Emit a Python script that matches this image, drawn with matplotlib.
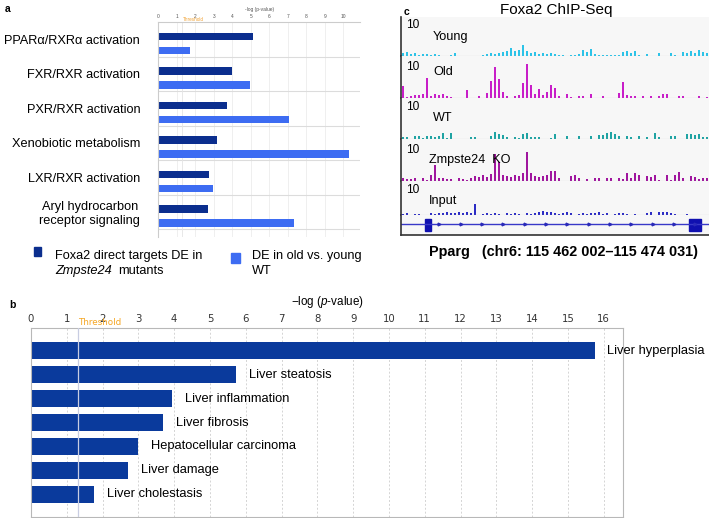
import numpy as np
import matplotlib.pyplot as plt
from matplotlib.patches import Rectangle

plt.rcParams['font.family'] = ['Liberation Sans', 'DejaVu Sans']
plt.rcParams['mathtext.fontset'] = 'custom'
plt.rcParams['mathtext.rm'] = 'Liberation Sans'
plt.rcParams['mathtext.it'] = 'Liberation Sans:italic'

# ---- panel a data
pathways = ['PPARα/RXRα activation', 'FXR/RXR activation', 'PXR/RXR activation',
            'Xenobiotic metabolism', 'LXR/RXR activation',
            'Aryl hydrocarbon\nreceptor signaling']
foxa2_targets = [5.1, 3.97, 3.7, 3.16, 2.74, 2.7]
old_vs_young = [1.71, 4.97, 7.06, 10.3, 2.94, 7.35]

# ---- panel b data
diseases = ['Liver hyperplasia', 'Liver steatosis', 'Liver inflammation', 'Liver fibrosis',
            'Hepatocellular carcinoma', 'Liver damage', 'Liver cholestasis']
disease_vals = [15.75, 5.74, 3.95, 3.70, 3.0, 2.71, 1.77]
threshold = 1.3

# ---- panel c data (binned signal, scale 0-10)
region_kb = 12.029
young = [0.7, 0.9, 0.4, 0.8, 0.3, 0.5, 0.4, 0.3, 0.5, 0.3, 0, 0, 0.2, 0.8, 0, 0, 0, 0, 0, 0,
         0.3, 0.4, 0.6, 0.5, 0.8, 1.0, 1.3, 1.8, 1.2, 1.5, 2.6, 1.2, 0.6, 0.9, 0.5, 0.7,
         0.5, 0.6, 0.4, 0.2, 0.3, 0, 0.2, 0.3, 0.5, 1.5, 1.0, 1.6, 0.4, 0.3, 0.3, 0.2, 0.3,
         0.2, 0.3, 0.9, 1.2, 0.8, 1.1, 0.2, 0, 0.4, 0, 0, 0.8, 0, 0, 0.6, 0.3, 0,
         1.0, 0.6, 1.2, 0.8, 1.5, 1.0, 0.7]
old = [2.8, 0.3, 0.5, 0.8, 0.6, 1.0, 4.8, 0.5, 0.9, 0.7, 0.9, 0.5, 0.2, 0, 0, 0, 2.0, 0, 0,
       0.5, 0, 1.2, 4.0, 7.5, 4.5, 1.5, 0.5, 0, 0.5, 0.6, 3.5, 8.1, 3.0, 1.0, 2.2, 0.8,
       1.5, 3.0, 2.5, 0.5, 0, 1.0, 0.3, 0, 0.4, 0.4, 0, 1.0, 0, 0, 0.4, 0, 0, 0, 1.2, 3.8,
       0.8, 0.4, 0.4, 0, 0.4, 0, 0.4, 0, 0.4, 1.0, 1.0, 0, 0, 0.4, 0.4, 0, 0, 0, 0.5, 0, 0.3]
wt = [0.5, 0.4, 0, 0.6, 0.7, 0.3, 0.6, 0.7, 0.5, 0.6, 1.4, 0.3, 1.5, 0, 0, 0, 0, 0.4, 0.5, 0,
      0, 0, 0.6, 1.6, 1.1, 0.9, 0.4, 0, 0.5, 0.3, 1.3, 1.5, 0.4, 0.5, 0.4, 0,
      0, 0.3, 1.2, 0, 0, 0.8, 0, 0, 0.8, 0, 0, 0.6, 0, 0.9, 1.0, 1.5, 1.6, 1.2, 0.8, 0,
      0.6, 0.5, 0, 0.6, 0, 0.5, 0, 1.4, 0.5, 0, 0, 0.8, 0.6, 0, 0, 1.1, 1.2, 0.9, 1.2, 0.4, 0.5]
ko = [0.6, 0.5, 0.4, 0.6, 0, 0.6, 0.3, 1.5, 3.7, 0.8, 0.6, 0.4, 0.5, 0, 0.6, 0.4, 0.3, 0.8,
      1.2, 0.9, 1.5, 1.0, 1.6, 6.5, 4.5, 1.5, 1.2, 1.0, 1.4, 1.2, 2.0, 6.9, 1.8, 1.2, 0.9, 1.1,
      1.5, 2.5, 2.3, 0.6, 0, 0, 1.2, 1.5, 0.6, 0, 0.5, 0, 0.7, 0.6, 0, 0.8, 0.7, 0, 0.6, 0.5,
      1.8, 0.6, 2.0, 1.4, 0, 1.2, 0.9, 1.5, 0.3, 0, 1.5, 0.3, 1.5, 2.2, 0.8, 0, 1.2, 1.0, 0.4,
      0.8, 0.8]
inp = [0.3, 0.4, 0, 0.3, 0.3, 0, 0, 0.4, 0.3, 0.5, 0.4, 0.6, 0.5, 0.4, 0.6, 0.5, 0.7, 0.4,
       2.6, 0, 0.3, 0.4, 0.3, 0.5, 0.3, 0, 0.4, 0.3, 0.5, 0.3, 0, 0.4, 0.3, 0.5,
       0.8, 0.9, 0.7, 0.8, 0.4, 0.3, 0.5, 0.6, 0.4, 0, 0.3, 0.5, 0.3, 0.4,
       0.5, 0.6, 0.3, 0.4, 0, 0.3, 0.5, 0.4, 0.3, 0, 0.3, 0, 0, 0.4, 0.6, 0,
       0.7, 0.8, 0.6, 0.5, 0.3, 0, 0, 0.3, 0, 0, 0, 0, 0]
track_names = ['Young', 'Old', 'WT', 'Zmpste24  KO', 'Input']
track_colors = ['#2cc3e8', '#c81ec8', '#1fa3a3', '#a0169e', '#2c2cc4']
exons_kb = [(0.94, 1.16), (11.25, 11.71)]

W, H = 709, 518
fig = plt.figure(figsize=(W / 100, H / 100), dpi=100)


def box(x0, y0, x1, y1):
    return fig.add_axes([x0 / W, 1 - y1 / H, (x1 - x0) / W, (y1 - y0) / H])


def ftext(x, y, s, **kw):
    fig.text(x / W, 1 - y / H, s, **kw)


dark = '#0b2e8e'
light = '#3d6cf2'

# ================= panel a
ax = box(158.3, 22, 360, 237)
idx = np.arange(len(pathways))
ax.barh(idx + 0.42, foxa2_targets, height=0.22, color=dark, zorder=2)
ax.barh(idx + 0.82, old_vs_young, height=0.22, color=light, zorder=2)
ax.set_xlim(0, 10.9)
ax.set_ylim(6.23, 0)
for y in range(1, len(pathways) + 1):
    ax.axhline(y, color='#dcdcdc', lw=0.8, zorder=1)
ax.axvline(threshold, color='#e4e4e4', lw=0.6, zorder=1)
ax.set_xticks(range(11))
ax.xaxis.tick_top()
ax.xaxis.set_label_position('top')
ax.tick_params(axis='x', labelsize=3.5, length=0, pad=2.5, colors='#555555')
ax.set_xlabel('-log (p-value)', fontsize=3.5, labelpad=2, color='#555555')
ax.grid(axis='x', color='#ececec', lw=0.6)
ax.set_axisbelow(True)
ax.set_yticks(idx + 0.5, pathways)
ax.tick_params(axis='y', length=0, pad=13, labelsize=9.2)
for lab in ax.get_yticklabels():
    lab.set_multialignment('center')
for s in ['right', 'bottom']:
    ax.spines[s].set_visible(False)
for s in ['top', 'left']:
    ax.spines[s].set_color('#cccccc')
ax.text(threshold, 1.0, 'Threshold', transform=ax.get_xaxis_transform(), fontsize=3.3,
        color='#f0a030', va='bottom', ha='left')

# legend (drawn by hand to follow the figure layout)
fig.add_artist(Rectangle((34 / W, 1 - 256 / H), 7 / W, 9 / H, transform=fig.transFigure,
                         color=dark))
fig.add_artist(Rectangle((231 / W, 1 - 263 / H), 9 / W, 10 / H, transform=fig.transFigure,
                         color=light))
ftext(55, 256, 'Foxa2 direct targets DE in', fontsize=9.2, va='center')
ftext(55, 271, 'Zmpste24', fontsize=9.2, va='center', style='italic')
ftext(118, 271, 'mutants', fontsize=9.2, va='center')
ftext(252, 256, 'DE in old vs. young', fontsize=9.2, va='center')
ftext(252, 271, 'WT', fontsize=9.2, va='center')

# ================= panel b
bx = box(31, 328, 623, 517)
idb = np.arange(len(diseases))
bx.barh(idb, disease_vals, height=0.73, color='#0a3a9c', zorder=2)
bx.set_xlim(0, 16.54)
bx.set_ylim(len(diseases) - 0.06, -0.94)
bx.axvline(threshold, color='#c8cde2', lw=0.9, zorder=3)
bx.set_xticks(range(17))
bx.xaxis.tick_top()
bx.xaxis.set_label_position('top')
bx.tick_params(axis='x', length=0, pad=3, colors='#333333')
for lab in bx.get_xticklabels():
    lab.set_fontfamily('DejaVu Sans')
    lab.set_fontsize(7.3)
bx.set_yticks([])
bx.grid(axis='x', color='#d4d4d4', lw=0.7, linestyle=(0, (2, 2)))
bx.set_axisbelow(True)
for s in bx.spines.values():
    s.set_color('#b8b8b8')
bx.set_xlabel('−log ($\\it{p}$-value)', fontsize=8.4, labelpad=6)
for i, (name, v) in enumerate(zip(diseases, disease_vals)):
    bx.text(v + 0.35, i, name, va='center', ha='left', fontsize=9.3)
bx.text(threshold, 1.004, 'Threshold', transform=bx.get_xaxis_transform(), fontsize=6.3,
        color='#f5a623', va='bottom', ha='left', fontfamily='DejaVu Sans')

# ================= panel c
spans = [(17, 56), (56, 98), (98, 139), (139, 181), (181, 215)]
signals = [young, old, wt, ko, inp]
px_per_unit = 4.2
for (y0, y1), sig, col in zip(spans, signals, track_colors):
    tx = box(401, y0, 709, y1)
    edges = np.linspace(0, region_kb, len(sig) + 1)
    step = edges[1] - edges[0]
    tx.bar(edges[:-1] + 0.15 * step, sig, width=0.7 * step, align='edge', color=col, lw=0)
    tx.set_xlim(0, region_kb)
    tx.set_ylim(0, (y1 - y0) / px_per_unit)
    tx.set_facecolor('#f7f7f7')
    tx.set_xticks([])
    tx.set_yticks([])
    for s in ['top', 'right']:
        tx.spines[s].set_visible(False)
    tx.spines['bottom'].set_color('#b5b5b5')
    tx.spines['left'].set_color('#333333')
    tx.spines['left'].set_linewidth(1.2)

gx = box(401, 215, 709, 235)
gx.set_xlim(0, region_kb)
gx.set_ylim(-1, 1)
gx.set_facecolor('#f7f7f7')
gx.axhline(0.1, color='#3838c8', lw=1)
arrow_x = np.arange(1.5, region_kb - 0.5, 0.833)
gx.plot(arrow_x, np.full_like(arrow_x, 0.1), ls='none', marker='>', ms=2, color='#2a2ab8')
for a, b in exons_kb:
    gx.add_patch(Rectangle((a, -0.55), b - a, 1.2, color='#1010b0'))
gx.set_xticks([])
gx.set_yticks([])
for s in ['top', 'right']:
    gx.spines[s].set_visible(False)
gx.spines['bottom'].set_color('#333333')
gx.spines['left'].set_color('#333333')
gx.spines['bottom'].set_linewidth(1.2)
gx.spines['left'].set_linewidth(1.2)

ten_y = [25, 67, 107, 150, 190]
name_pos = [(433, 37), (433, 72), (433, 118), (429, 160), (429, 201)]
for ty, (nx, ny), nm in zip(ten_y, name_pos, track_names):
    ftext(406.5, ty, '10', fontsize=8.6, va='center')
    ftext(nx, ny, nm, fontsize=9.1, va='center')

ftext(556, 10, 'Foxa2 ChIP-Seq', fontsize=11, ha='center', va='center')
ftext(429, 252, 'Pparg   (chr6: 115 462 002–115 474 031)', fontsize=10.4,
      fontweight='bold', va='center')

# panel letters
ftext(8, 9, 'a', fontsize=7.5, fontweight='bold', ha='center', va='center')
ftext(12, 305, 'b', fontsize=7.5, fontweight='bold', ha='center', va='center')
ftext(407, 12, 'c', fontsize=7.5, fontweight='bold', ha='center', va='center')

fig.savefig('out.png', dpi=100)
